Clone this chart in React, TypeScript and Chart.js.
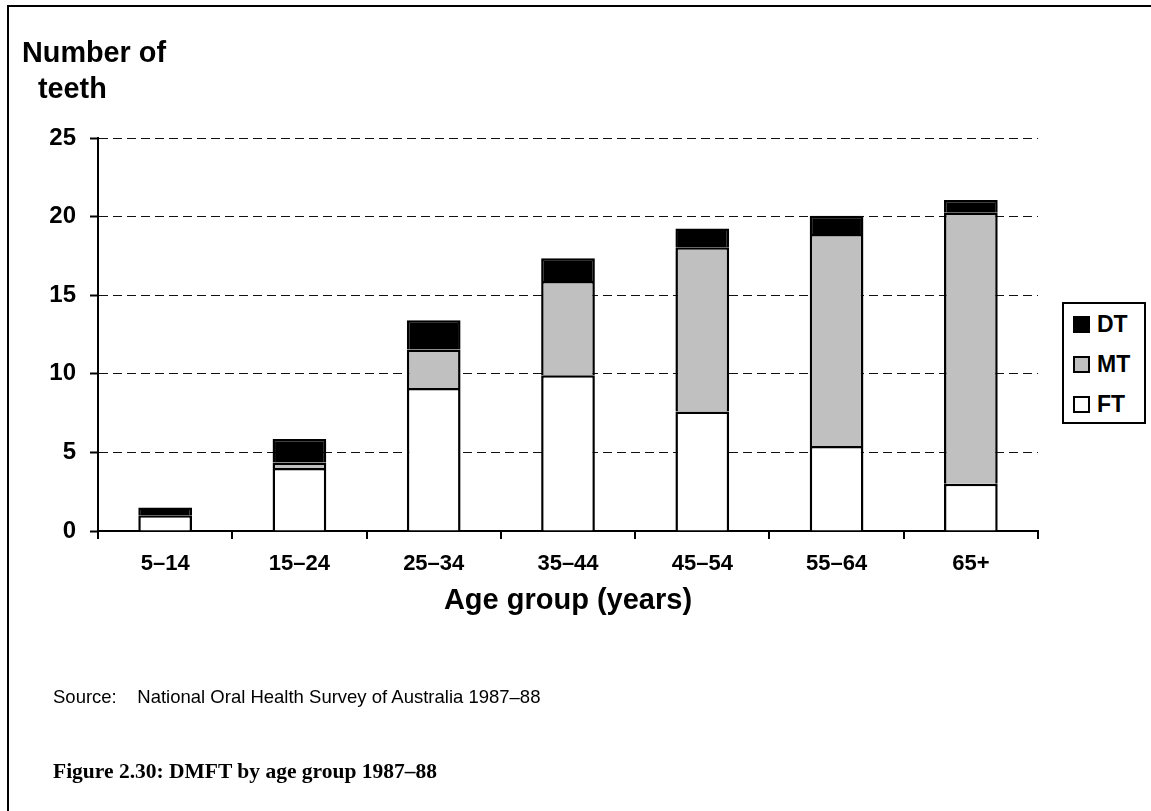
import React, { useEffect, useRef } from "react";
import { Chart, registerables } from "chart.js";

Chart.register(...registerables);

const categories = ["5–14", "15–24", "25–34", "35–44", "45–54", "55–64", "65+"];
const ftValues = [1.0, 4.0, 9.1, 9.9, 7.6, 5.4, 3.0];
const mtValues = [0, 0.35, 2.45, 6.0, 10.45, 13.5, 17.25];
const dtValues = [0.5, 1.5, 1.85, 1.45, 1.2, 1.15, 0.8];
const seriesNames = ["FT", "MT", "DT"];
const seriesColors = ["#ffffff", "#c0c0c0", "#000000"];
const yTicks = [0, 5, 10, 15, 20, 25];

const SANS = "'Liberation Sans', Arial, sans-serif";

export default function App() {
  const canvasRef = useRef<HTMLCanvasElement | null>(null);

  useEffect(() => {
    const canvas = canvasRef.current;
    if (!canvas) return;
    const seriesValues = [ftValues, mtValues, dtValues];
    const chart = new Chart(canvas, {
      type: "bar",
      data: {
        labels: categories,
        datasets: seriesNames.map((name, i) => ({
          label: name,
          data: seriesValues[i],
          backgroundColor: seriesColors[i],
          borderColor: "#000000",
          borderWidth: 2.5,
          categoryPercentage: 1,
          barPercentage: 0.4,
        })),
      },
      options: {
        responsive: false,
        animation: false,
        devicePixelRatio: 1,
        layout: { padding: { left: 0, top: 138, right: 113, bottom: 220 } },
        plugins: {
          legend: { display: false },
          tooltip: { enabled: false },
          title: { display: false },
        },
        scales: {
          x: {
            stacked: true,
            offset: true,
            afterFit: (scale: any) => {
              scale.height = 60;
            },
            grid: {
              offset: true,
              drawOnChartArea: false,
              drawTicks: true,
              tickLength: 8,
              tickColor: "#000000",
              tickWidth: 2,
              lineWidth: 2,
              color: "#000000",
            },
            border: { display: true, color: "#000000", width: 2 },
            ticks: {
              color: "#000000",
              padding: 12,
              font: { family: SANS, size: 22, weight: "bold" },
              maxRotation: 0,
              autoSkip: false,
            },
          },
          y: {
            stacked: true,
            min: 0,
            max: 25,
            afterFit: (scale: any) => {
              scale.width = 98;
            },
            afterBuildTicks: (scale: any) => {
              scale.ticks = yTicks.map((v) => ({ value: v }));
            },
            grid: {
              drawTicks: true,
              tickLength: 8,
              tickColor: "#000000",
              tickWidth: 2,
              lineWidth: 1,
              color: (ctx: any) => (ctx.tick && ctx.tick.value === 0 ? "rgba(0,0,0,0)" : "#111111"),
            },
            border: { display: true, color: "#000000", width: 2, dash: [9, 5] },
            ticks: {
              color: "#000000",
              padding: 14,
              font: { family: SANS, size: 24, weight: "bold" },
            },
          },
        },
      },
    });
    return () => chart.destroy();
  }, []);

  const legendItems = [
    { name: seriesNames[2], color: seriesColors[2], y: 324 },
    { name: seriesNames[1], color: seriesColors[1], y: 364 },
    { name: seriesNames[0], color: seriesColors[0], y: 404 },
  ];

  return (
    <div
      style={{
        position: "absolute",
        left: 0,
        top: 0,
        width: 1151,
        height: 811,
        overflow: "hidden",
        background: "#ffffff",
        fontFamily: SANS,
      }}
    >
      <div
        style={{
          position: "absolute",
          left: 7,
          top: 5,
          width: 1300,
          height: 1000,
          border: "2px solid #000",
        }}
      />
      <canvas
        ref={canvasRef}
        width={1151}
        height={811}
        style={{ position: "absolute", left: 0, top: 0, width: 1151, height: 811, display: "block" }}
      />
      <div style={{ position: "absolute", left: 22, top: 35, fontSize: 28.8, fontWeight: "bold", lineHeight: "34px", whiteSpace: "nowrap" }}>
        Number of
      </div>
      <div style={{ position: "absolute", left: 38, top: 71, fontSize: 28.8, fontWeight: "bold", lineHeight: "34px", whiteSpace: "nowrap" }}>
        teeth
      </div>
      <div
        style={{
          position: "absolute",
          left: 568,
          top: 582,
          transform: "translateX(-50%)",
          fontSize: 29,
          fontWeight: "bold",
          lineHeight: "34px",
          whiteSpace: "nowrap",
        }}
      >
        Age group (years)
      </div>
      <div
        style={{
          position: "absolute",
          left: 1062,
          top: 302,
          width: 80,
          height: 118,
          border: "2px solid #000",
          background: "#fff",
        }}
      />
      {legendItems.map((it) => (
        <React.Fragment key={it.name}>
          <div
            style={{
              position: "absolute",
              left: 1073,
              top: it.y - 8,
              width: 13,
              height: 13,
              border: "2px solid #000",
              background: it.color,
            }}
          />
          <div
            style={{
              position: "absolute",
              left: 1097,
              top: it.y - 13,
              fontSize: 23,
              fontWeight: "bold",
              lineHeight: "26px",
              whiteSpace: "nowrap",
            }}
          >
            {it.name}
          </div>
        </React.Fragment>
      ))}
      <div style={{ position: "absolute", left: 53, top: 686, fontSize: 18.5, lineHeight: "22px", whiteSpace: "pre" }}>
        {"Source:    National Oral Health Survey of Australia 1987–88"}
      </div>
      <div
        style={{
          position: "absolute",
          left: 53,
          top: 758,
          fontSize: 21.5,
          fontWeight: "bold",
          lineHeight: "26px",
          fontFamily: "'Liberation Serif', 'Times New Roman', serif",
          whiteSpace: "nowrap",
        }}
      >
        Figure 2.30: DMFT by age group 1987–88
      </div>
    </div>
  );
}
